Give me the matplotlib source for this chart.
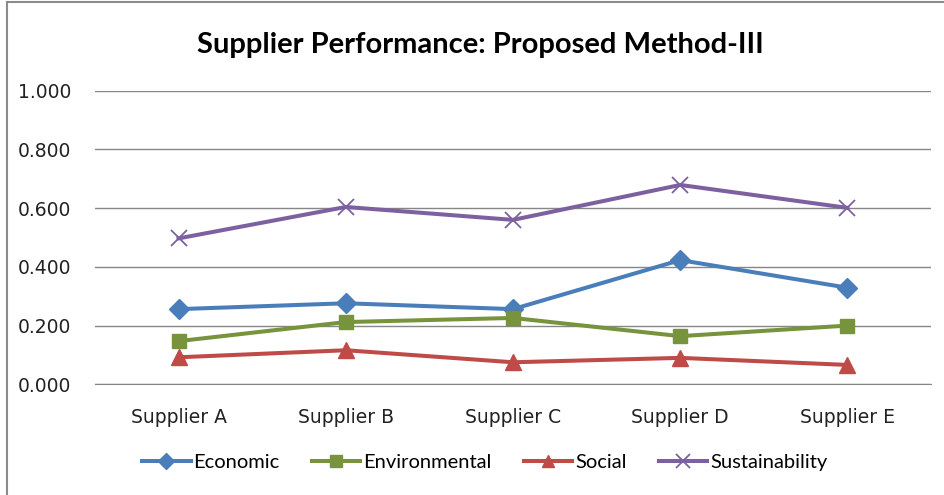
import matplotlib.pyplot as plt
from matplotlib.lines import Line2D

plt.rcParams['font.family'] = ['Lato', 'DejaVu Sans']

suppliers = ["Supplier A", "Supplier B", "Supplier C", "Supplier D", "Supplier E"]
economic = [0.256, 0.276, 0.256, 0.423, 0.329]
environmental = [0.147, 0.212, 0.226, 0.164, 0.200]
social = [0.092, 0.116, 0.075, 0.090, 0.066]
sustainability = [0.497, 0.604, 0.560, 0.679, 0.601]

fig = plt.figure(figsize=(9.44, 4.95), dpi=100)
ax = fig.add_axes([95 / 944, 1 - 384.3 / 495, 836 / 944, 293.6 / 495])

x = range(len(suppliers))
ax.plot(x, economic, color="#4a7ebb", lw=2.9, marker="D", ms=10,
        label="Economic", zorder=3)
ax.plot(x, environmental, color="#77933c", lw=2.9, marker="s", ms=10.5,
        label="Environmental", zorder=3)
ax.plot(x, social, color="#be4b48", lw=2.9, marker="^", ms=11.5,
        label="Social", zorder=3)
ax.plot(x, sustainability, color="#7d60a0", lw=2.9, marker="x", ms=12,
        mew=1.3, label="Sustainability", zorder=3)

ax.set_xlim(-0.5, len(suppliers) - 0.5)
ax.set_ylim(0, 1.0)
ax.set_yticks([0, 0.2, 0.4, 0.6, 0.8, 1.0])
ax.set_yticklabels(["%.3f" % v for v in [0, 0.2, 0.4, 0.6, 0.8, 1.0]],
                   fontsize=13.5, family=['DejaVu Sans'], color="#222222")
ax.set_xticks(list(x))
ax.set_xticklabels(suppliers, fontsize=13.5, family=['DejaVu Sans'], color="#222222")
ax.tick_params(length=0, pad=17, axis='y')
ax.tick_params(length=0, pad=17, axis='x')
ax.yaxis.grid(True, color="#868686", lw=1)
ax.set_axisbelow(True)
for s in ax.spines.values():
    s.set_visible(False)
ax.spines['bottom'].set_visible(True)
ax.spines['bottom'].set_color("#868686")

fig.text(480 / 944, 1 - 45 / 495, "Supplier Performance: Proposed Method-III",
         ha="center", va="center", fontsize=21, fontweight="bold")

handles, labels = ax.get_legend_handles_labels()
fig.legend(handles, labels, loc="center", bbox_to_anchor=(485 / 944, 1 - 462 / 495),
           ncol=4, frameon=False, fontsize=14.5, handlelength=2.4,
           handletextpad=0.15, columnspacing=1.6, markerscale=0.8)

# outer chart border
fig.add_artist(Line2D([7 / 944, 7 / 944], [0, 1 - 2 / 495], color="#8c8c8c", lw=1.5))
fig.add_artist(Line2D([7 / 944, 1], [1 - 2 / 495, 1 - 2 / 495], color="#8c8c8c", lw=1.5))

fig.savefig("out.png", dpi=100)
